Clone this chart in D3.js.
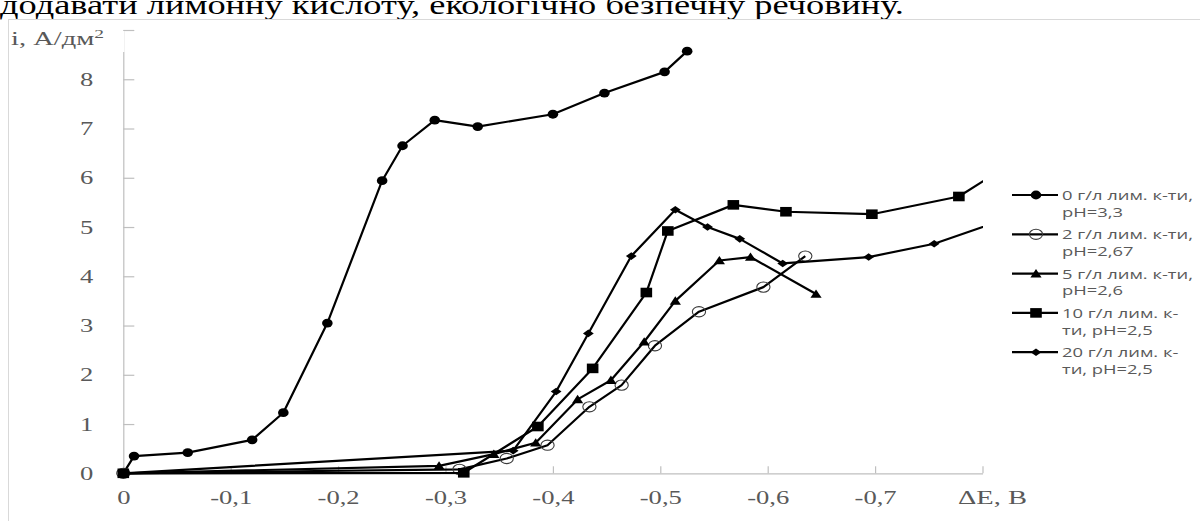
<!DOCTYPE html>
<html>
<head>
<meta charset="utf-8">
<script src="https://cdn.jsdelivr.net/npm/d3@7"></script>
<style>
  html, body { margin: 0; padding: 0; background: #fff; }
  svg { display: block; }
</style>
</head>
<body>
<svg id="chart" width="1200" height="521"></svg>
<script>
// Polarisation curves: current density i (A/dm²) vs potential shift ΔE (V)
const xTicks = [0, -0.1, -0.2, -0.3, -0.4, -0.5, -0.6, -0.7, -0.8];
const yTicks = [0, 1, 2, 3, 4, 5, 6, 7, 8, 9];

const dE_0  = [0, -0.01, -0.06, -0.12, -0.149, -0.19, -0.241, -0.26, -0.29, -0.33, -0.40, -0.448, -0.504, -0.525];
const i_0   = [0, 0.35, 0.42, 0.68, 1.23, 3.05, 5.94, 6.65, 7.17, 7.04, 7.29, 7.72, 8.15, 8.57];

const dE_2  = [0, -0.313, -0.357, -0.395, -0.434, -0.464, -0.495, -0.536, -0.596, -0.635];
const i_2   = [0, 0.08, 0.30, 0.57, 1.35, 1.79, 2.59, 3.28, 3.78, 4.41];

const dE_5  = [0, -0.294, -0.345, -0.384, -0.423, -0.454, -0.485, -0.514, -0.555, -0.584, -0.645];
const i_5   = [0, 0.15, 0.39, 0.62, 1.50, 1.89, 2.67, 3.50, 4.32, 4.39, 3.64];

const dE_10 = [0, -0.317, -0.386, -0.437, -0.487, -0.507, -0.568, -0.617, -0.697, -0.778, -0.82];
const i_10  = [0, 0.01, 0.95, 2.13, 3.67, 4.92, 5.45, 5.31, 5.26, 5.62, 6.2];

const dE_20 = [0, -0.363, -0.403, -0.433, -0.473, -0.514, -0.544, -0.574, -0.614, -0.694, -0.755, -0.82];
const i_20  = [0, 0.46, 1.66, 2.84, 4.41, 5.35, 5.00, 4.76, 4.26, 4.39, 4.66, 5.15];

const legendLines = [
  ["0 г/л лим. к-ти,", "pH=3,3"],
  ["2 г/л лим. к-ти,", "pH=2,67"],
  ["5 г/л лим. к-ти,", "pH=2,6"],
  ["10 г/л лим. к-", "ти, pH=2,5"],
  ["20 г/л лим. к-", "ти, pH=2,5"]
];
const markerKinds = ["dot", "ring", "triangle", "square", "diamond"];

const series = [
  {x: dE_0,  y: i_0},
  {x: dE_2,  y: i_2},
  {x: dE_5,  y: i_5},
  {x: dE_10, y: i_10},
  {x: dE_20, y: i_20}
].map((s, k) => ({
  kind: markerKinds[k],
  legend: legendLines[k],
  points: s.x.map((v, j) => ({dE: v, i: s.y[j]}))
}));

const svg = d3.select("#chart");
const W = 1200, H = 521;
const plotLeft = 123.3, plotRight = 982.5, plotTop = 30, plotBottom = 473.3;

const x = d3.scaleLinear().domain([0, -0.8]).range([plotLeft, plotRight]);
const y = d3.scaleLinear().domain([0, 9]).range([plotBottom, plotTop]);

const grey = "#595959";
const axisGrey = "#bfbfbf";
const serif = "'Liberation Serif', 'Times New Roman', serif";
const sans = "'Open Sans', 'Noto Sans', sans-serif";

// The whole figure is drawn with wide (horizontally stretched) lettering
const sxTick = 1.4, sxTitle = 1.5;

// Text line above the chart, cut by the page edge
svg.append("text")
  .attr("transform", "translate(0,14) scale(1.3,1)")
  .attr("font-family", serif)
  .attr("font-size", 28)
  .attr("fill", "#000")
  .text("додавати лимонну кислоту, екологічно безпечну речовину.");

// Chart frame
svg.append("rect")
  .attr("x", 8.5).attr("y", 19.5)
  .attr("width", W + 10).attr("height", H)
  .attr("fill", "#fff")
  .attr("stroke", "#d9d9d9");

const fmt = v => v === 0 ? "0" : ("-" + Math.abs(v).toFixed(1).replace(".", ","));

// Y axis (inside ticks, labels to the left)
const yAxis = svg.append("g")
  .attr("transform", `translate(${plotLeft},0)`)
  .call(d3.axisLeft(y).tickValues(yTicks).tickSizeInner(-11).tickSizeOuter(0).tickPadding(30)
    .tickFormat(v => v === 9 ? "" : String(v)));

// X axis (inside ticks, labels below)
const xAxis = svg.append("g")
  .attr("transform", `translate(0,${plotBottom})`)
  .call(d3.axisBottom(x).tickValues(xTicks).tickSizeInner(-7).tickSizeOuter(0).tickPadding(17.5)
    .tickFormat(v => Math.abs(v + 0.8) < 1e-9 ? "" : fmt(v)));

[yAxis, xAxis].forEach(g => {
  g.select(".domain").attr("stroke", axisGrey).attr("stroke-width", 1.2);
  g.selectAll(".tick line").attr("stroke", axisGrey).attr("stroke-width", 1.2);
  g.selectAll(".tick text")
    .attr("font-family", serif)
    .attr("font-size", 19)
    .attr("fill", grey);
});
yAxis.selectAll(".tick text")
  .attr("x", -30 / sxTick)
  .attr("transform", `scale(${sxTick},1)`);
xAxis.selectAll(".tick text")
  .attr("transform", `scale(${sxTick},1)`);

// Axis titles (the y title sits over the top of its axis line)
svg.append("rect")
  .attr("x", 9).attr("y", 31).attr("width", 115.5).attr("height", 21)
  .attr("fill", "#fff");
const yTitle = svg.append("text")
  .attr("transform", `translate(11,45) scale(${sxTitle},1)`)
  .attr("font-family", serif)
  .attr("font-size", 19)
  .attr("fill", grey);
yTitle.append("tspan").text("i, А/дм");
yTitle.append("tspan").attr("dy", -7).attr("font-size", 13).text("2");

svg.append("text")
  .attr("transform", `translate(${x(-0.8) + 10},${plotBottom + 17.5 + 13.5}) scale(${sxTitle},1)`)
  .attr("text-anchor", "middle")
  .attr("font-family", serif)
  .attr("font-size", 19)
  .attr("fill", grey)
  .text("ΔE, В");

// Lines end at the right end of the x axis
svg.append("clipPath").attr("id", "plotClip")
  .append("rect").attr("x", 0).attr("y", 0).attr("width", plotRight + 0.5).attr("height", H);

const line = d3.line().x(d => x(d.dE)).y(d => y(d.i));

function drawMarker(sel, kind) {
  if (kind === "dot") {
    sel.append("ellipse").attr("rx", 5.3).attr("ry", 4.4).attr("fill", "#000");
  } else if (kind === "ring") {
    sel.append("ellipse").attr("rx", 6.6).attr("ry", 5.1)
      .attr("fill", "none").attr("stroke", "#3a3a3a").attr("stroke-width", 1.1);
  } else if (kind === "triangle") {
    sel.append("path").attr("d", "M0,-4.6L5.6,3.8L-5.6,3.8Z").attr("fill", "#000");
  } else if (kind === "square") {
    sel.append("rect").attr("x", -5.8).attr("y", -4.8).attr("width", 11.6).attr("height", 9.6).attr("fill", "#000");
  } else if (kind === "diamond") {
    sel.append("path").attr("d", "M0,-3.8L5.4,0L0,3.8L-5.4,0Z").attr("fill", "#000");
  }
}

const plot = svg.append("g").attr("clip-path", "url(#plotClip)");
series.forEach(s => {
  const g = plot.append("g");
  g.append("path")
    .datum(s.points)
    .attr("d", line)
    .attr("fill", "none")
    .attr("stroke", "#000")
    .attr("stroke-width", 2.2)
    .attr("stroke-linejoin", "round");
  g.selectAll("g.pt")
    .data(s.points)
    .join("g")
    .attr("class", "pt")
    .attr("transform", d => `translate(${x(d.dE)},${y(d.i)})`)
    .each(function () { drawMarker(d3.select(this), s.kind); });
});

// Legend
const legend = svg.append("g").attr("transform", "translate(1012,195)");
const legendTexts = [];
series.forEach((s, k) => {
  const row = legend.append("g").attr("transform", `translate(0,${k * 39.3})`);
  row.append("line")
    .attr("x1", 0).attr("x2", 46).attr("y1", 0).attr("y2", 0)
    .attr("stroke", "#000").attr("stroke-width", 2.2);
  const m = row.append("g").attr("transform", "translate(24,0)");
  drawMarker(m, s.kind);
  const t = row.append("text")
    .attr("transform", "translate(50,5)")
    .attr("font-family", sans)
    .attr("font-size", 13)
    .attr("fill", grey);
  t.append("tspan").attr("x", 0).text(s.legend[0]);
  t.append("tspan").attr("x", 0).attr("dy", 16.7).text(s.legend[1]);
  legendTexts.push(t);
});
// widen legend lettering so the first caption spans about 131 px
const natural = legendTexts[0].select("tspan").node().getComputedTextLength();
const sxLegend = natural > 0 ? 131 / natural : 1.35;
legendTexts.forEach(t => t.attr("transform", `translate(50,5) scale(${sxLegend},1)`));
</script>
</body>
</html>
